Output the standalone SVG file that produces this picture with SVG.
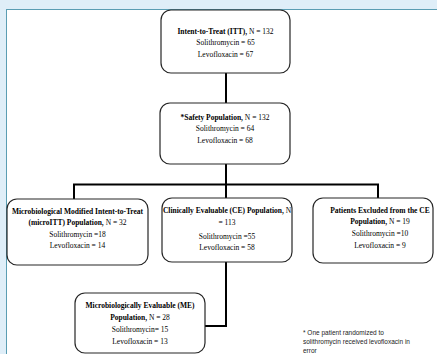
<svg xmlns="http://www.w3.org/2000/svg" width="437" height="354" viewBox="0 0 437 354">
<style>
.box{fill:#fff;stroke:#262626;stroke-width:1.2}
.t{font-family:"Liberation Serif","Times New Roman",serif;font-size:7.5px;fill:#000;text-anchor:middle}
.b{font-weight:bold}
.con{fill:none;stroke:#000;stroke-width:2}
.note{font-family:"Liberation Sans",Arial,sans-serif;font-size:6.5px;fill:#222}
</style>
<rect x="0" y="0" width="437" height="354" fill="#dfeef8"/>
<rect x="6.5" y="9.5" width="440" height="350" fill="#fff" stroke="#5a9db3" stroke-width="1"/>
<g id="connectors">
<path class="con" d="M226 73V103"/>
<path class="con" d="M226 164V198"/>
<path class="con" d="M74 199V184.5H378V198" stroke-width="2.5"/>
<path class="con" d="M226 262V326H205"/>
</g>
<g id="itt">
<rect class="box" x="161" y="10" width="129" height="63" rx="10"/>
<text class="t" x="225.5" y="34"><tspan class="b">Intent-to-Treat (ITT),</tspan> N = 132</text>
<text class="t" x="225.5" y="45">Solithromycin = 65</text>
<text class="t" x="225.5" y="57">Levofloxacin = 67</text>
</g>
<g id="safety">
<rect class="box" x="160" y="103" width="130" height="61" rx="10"/>
<text class="t" x="225" y="120"><tspan class="b">*Safety Population,</tspan> N = 132</text>
<text class="t" x="225" y="131">Solithromycin = 64</text>
<text class="t" x="225" y="143">Levofloxacin = 68</text>
</g>
<g id="mmitt">
<rect class="box" x="7" y="199" width="141" height="66" rx="10"/>
<text class="t b" x="77.5" y="214">Microbiological Modified Intent-to-Treat</text>
<text class="t" x="77.5" y="225"><tspan class="b">(microITT) Population,</tspan> N = 32</text>
<text class="t" x="77.5" y="237">Solithromycin =18</text>
<text class="t" x="77.5" y="248">Levofloxacin = 14</text>
</g>
<g id="ce">
<rect class="box" x="162" y="198" width="130" height="64" rx="10"/>
<text class="t" x="227" y="213"><tspan class="b">Clinically Evaluable (CE) Population,</tspan> N</text>
<text class="t" x="227" y="225">= 113</text>
<text class="t" x="227" y="239">Solithromycin =55</text>
<text class="t" x="227" y="250">Levofloxacin = 58</text>
</g>
<g id="excluded">
<rect class="box" x="313" y="198" width="120" height="65" rx="10"/>
<text class="t b" x="380" y="213">Patients Excluded from the CE</text>
<text class="t" x="380" y="224"><tspan class="b">Population,</tspan> N = 19</text>
<text class="t" x="380" y="236">Solithromycin =10</text>
<text class="t" x="380" y="248">Levofloxacin = 9</text>
</g>
<g id="me">
<rect class="box" x="75" y="293" width="130" height="60" rx="10"/>
<text class="t b" x="140" y="308">Microbiologically Evaluable (ME)</text>
<text class="t" x="140" y="320"><tspan class="b">Population,</tspan> N = 28</text>
<text class="t" x="140" y="332">Solithromycin= 15</text>
<text class="t" x="140" y="344">Levofloxacin = 13</text>
</g>
<g id="footnote">
<text class="note" x="303" y="335">* One patient randomized to</text>
<text class="note" x="303" y="344">solithromycin received levofloxacin in</text>
<text class="note" x="303" y="353">error</text>
</g>
</svg>
